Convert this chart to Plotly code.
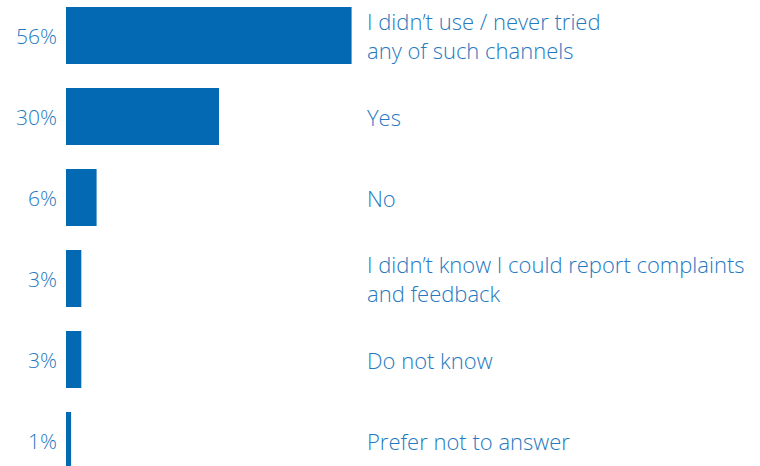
import plotly.graph_objects as go

categories = [
    "I didn\u2019t use / never tried<br>any of such channels",
    "Yes",
    "No",
    "I didn\u2019t know I could report complaints<br>and feedback",
    "Do not know",
    "Prefer not to answer",
]
values = [56, 30, 6, 3, 3, 1]
pct_labels = ["56%", "30%", "6%", "3%", "3%", "1%"]

BAR = "#0369b3"
TXT = "#2579c0"
FONT = "Open Sans"

S = 5.1  # px per percent
x0 = 66
ytop = 35.5
pitch = 81.0
W, H = 760, 466

ypos = list(range(len(values)))

fig = go.Figure()
fig.add_trace(go.Bar(
    x=values, y=ypos, orientation="h",
    marker=dict(color=BAR, line=dict(width=0)),
    width=0.704, hoverinfo="skip",
))

for i, (lab, cat) in enumerate(zip(pct_labels, categories)):
    fig.add_annotation(x=0, y=i, xref="x", yref="y", text=lab, showarrow=False,
                       xanchor="right", yanchor="middle", xshift=-7,
                       font=dict(family=FONT, size=21, color=TXT, weight=300))
    fig.add_annotation(x=365 / W, y=i, xref="paper", yref="y", text=cat, showarrow=False,
                       xanchor="left", yanchor="middle", align="left",
                       font=dict(family=FONT, size=22, color=TXT, weight=300))

fig.update_layout(
    width=W, height=H,
    margin=dict(l=0, r=0, t=0, b=0),
    paper_bgcolor="white", plot_bgcolor="white",
    showlegend=False,
    xaxis=dict(range=[-x0 / S, -x0 / S + W / S], visible=False, fixedrange=True),
    yaxis=dict(range=[(H - ytop) / pitch, -ytop / pitch], visible=False, fixedrange=True),
)

fig.write_html("out.html", config={"displayModeBar": False},
               post_script="document.body.style.margin='0';")
